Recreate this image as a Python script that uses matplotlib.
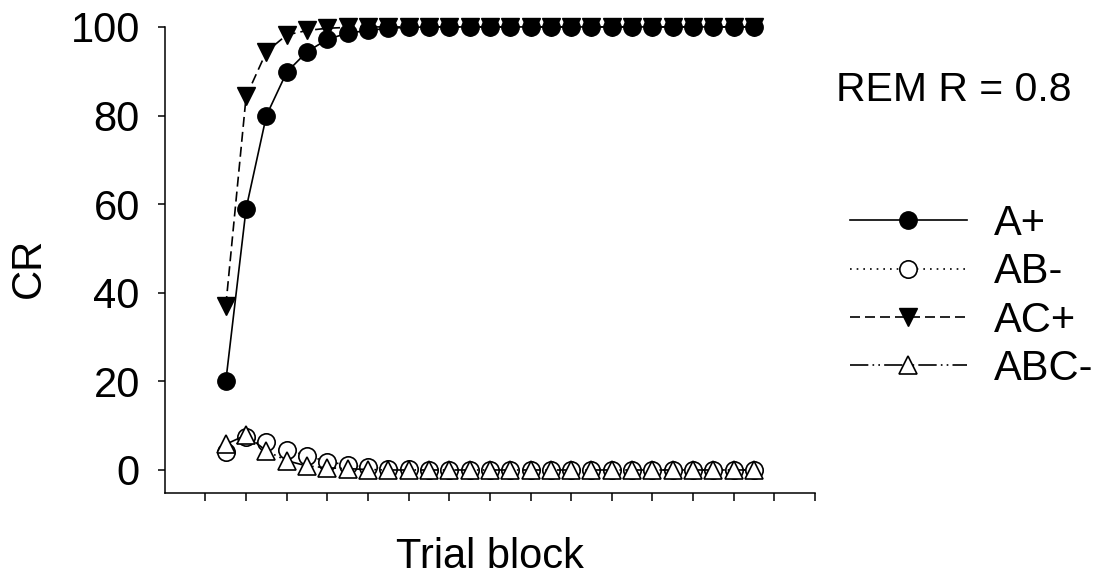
import numpy as np
from matplotlib import pyplot as plt

plt.rcParams['font.family'] = ['Liberation Sans', 'DejaVu Sans']

# trial blocks 1..27 (drawn at x = block + 2 so ticks fall between points)
blocks = np.arange(1, 28)

a_plus = [20, 59, 80, 89.8, 94.4, 97.2, 98.6, 99.2, 99.7, 99.9] + [100] * 17
ab_minus = [4.1, 7.5, 6.4, 4.6, 3.2, 1.9, 1.1, 0.6, 0.3, 0.15, 0.05] + [0] * 16
ac_plus = [37, 84.3, 94.4, 98.2, 99.2, 99.7, 99.9] + [100] * 20
abc_minus = [5.8, 7.9, 4.3, 2.1, 0.9, 0.5, 0.3, 0.1] + [0] * 19

labels = ['A+', 'AB-', 'AC+', 'ABC-']

fig = plt.figure(figsize=(10.99, 5.79), dpi=100)
ax = fig.add_axes([0.150, 0.1485, 0.5915, 0.805])

x = blocks + 2
ms = 12.5
lw = 1.2
ax.plot(x, a_plus, '-', color='k', lw=lw, marker='o', ms=ms, mfc='k', mec='k',
        label=labels[0], zorder=4, clip_on=False)
ax.plot(x, ab_minus, linestyle=(0, (1, 3)), color='k', lw=lw, marker='o', ms=ms,
        mfc='white', mec='k', mew=1.2, label=labels[1], zorder=3, clip_on=False)
ax.plot(x, ac_plus, linestyle=(0, (6, 3)), color='k', lw=lw, marker='v', ms=ms,
        mfc='k', mec='k', label=labels[2], zorder=3, clip_on=False)
ax.plot(x, abc_minus, linestyle=(0, (11, 2.5, 1, 2.5, 1, 2.5)), color='k', lw=lw,
        marker='^', ms=ms, mfc='white', mec='k', mew=1.2, label=labels[3],
        zorder=4, clip_on=False)

ax.set_xlim(0, 32)
ax.set_ylim(-5.2, 100)
ax.set_xticks(np.arange(2, 33, 2))
ax.set_xticklabels([])
ax.set_yticks([0, 20, 40, 60, 80, 100])
ax.spines['top'].set_visible(False)
ax.spines['right'].set_visible(False)
for s in ['left', 'bottom']:
    ax.spines[s].set_linewidth(1.1)
ax.tick_params(axis='y', direction='out', length=5, width=1.1, labelsize=30, pad=13)
ax.tick_params(axis='x', direction='out', length=6, width=1.1)

fig.text(29 / 1099, 1 - 268 / 579, 'CR', rotation=90, ha='center', va='center',
         fontsize=30)
fig.text(490 / 1099, 1 - 557 / 579, 'Trial block', ha='center', va='center',
         fontsize=30)
fig.text(836 / 1099, 1 - 90 / 579, 'REM R = 0.8', ha='left', va='center',
         fontsize=29.5)

fig.legend(loc='center left', bbox_to_anchor=(850 / 1099, 1 - 296.5 / 579),
           frameon=False, fontsize=30, handlelength=2.8, handletextpad=0.65,
           labelspacing=0.2, borderpad=0, borderaxespad=0, numpoints=1)

fig.savefig('out.png', dpi=100)
